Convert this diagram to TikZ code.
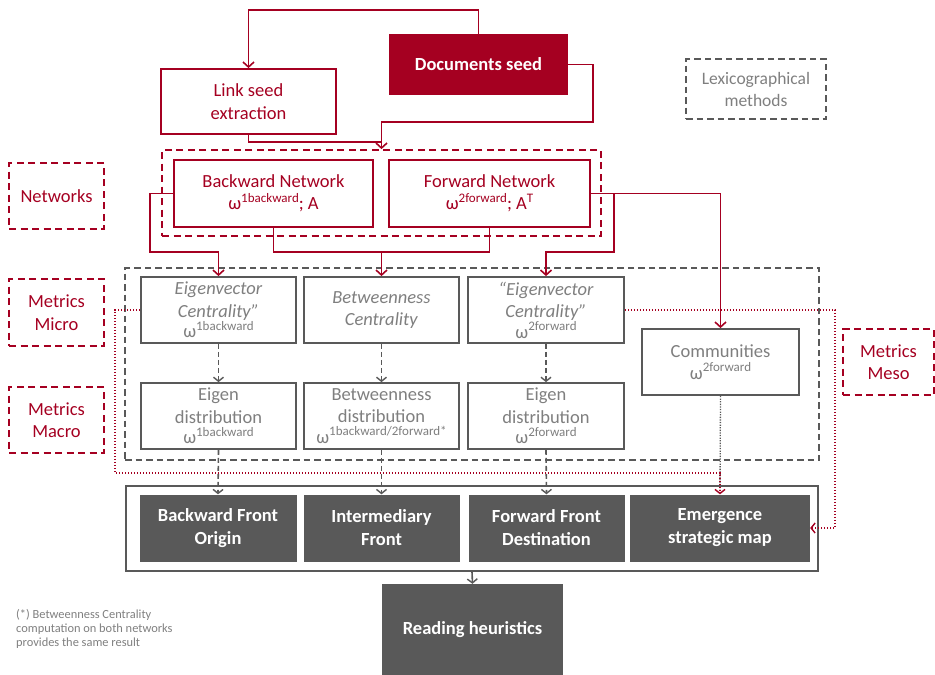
\documentclass[tikz,border=0pt]{standalone}
\usepackage{fontspec}
\setmainfont{Carlito}
\usetikzlibrary{arrows.meta}
\definecolor{dred}{HTML}{A50021}
\definecolor{dgray}{HTML}{595959}
\definecolor{tgray}{HTML}{7F7F7F}
\newcommand\omup[1]{ω\raisebox{0.42em}{\fontsize{13}{13}\selectfont #1}}
\tikzset{
 base/.style={rectangle, inner sep=0pt, align=center, font=\fontsize{18.5}{22.5}\selectfont},
 redbox/.style={base, draw=dred, line width=1.8pt, text=dred, fill=white},
 seedbox/.style={base, fill=dred, text=white, font=\fontsize{18.5}{22}\selectfont\bfseries},
 graybox/.style={base, draw=dgray, line width=1.8pt, text=tgray, fill=white},
 darkbox/.style={base, fill=dgray, text=white, font=\fontsize{18.5}{23}\selectfont\bfseries},
 reddash/.style={base, draw=dred, line width=1.8pt, dash pattern=on 7pt off 4.5pt, text=dred},
 graydash/.style={base, draw=dgray, line width=1.8pt, dash pattern=on 6.5pt off 4pt, text=tgray},
 container/.style={base, draw=dgray, line width=1.6pt, fill=white},
 redline/.style={draw=dred, line width=1.8pt},
 redarrow/.style={redline, -{Straight Barb[length=5pt,width=11pt,line width=1.6pt]}},
 grayarrow/.style={draw=dgray, line width=1.6pt, dash pattern=on 5pt off 3pt, -{Straight Barb[length=4pt,width=10pt,line width=1.4pt]}},
 grayarrowsolid/.style={draw=dgray, line width=1.6pt, -{Straight Barb[length=4pt,width=10pt,line width=1.4pt]}},
 reddot/.style={draw=dred, line width=1.5pt, dash pattern=on 1.5pt off 1.5pt},
 reddotarrow/.style={reddot, -{Straight Barb[length=4pt,width=10pt,line width=1.4pt]}},
 graydot/.style={draw=dgray, line width=1.3pt, dash pattern=on 1.3pt off 1.3pt},
}
\begin{document}
\begin{tikzpicture}[x=1pt,y=-1pt]
\useasboundingbox (0,0) rectangle (935,675);

% containers
\node[reddash, minimum width=439, minimum height=86] (netbox) at (381.5,193) {};
\node[graydash, minimum width=694, minimum height=192] (metbox) at (472,364) {};
\node[container, minimum width=692, minimum height=85] (frontbox) at (472,528.5) {};

% top
\node[seedbox, minimum width=179, minimum height=61] (docs) at (478.5,64.5) {Documents seed};
\node[redbox, minimum width=175, minimum height=65] (link) at (248.5,101.5) {Link seed\\extraction};
\node[graydash, minimum width=140, minimum height=60, font=\fontsize{17.5}{22}\selectfont] (lex) at (756,89) {Lexicographical\\methods};

% networks
\node[redbox, minimum width=199, minimum height=67] (back) at (273.5,193.5) {Backward Network\\\omup{1backward}; A};
\node[redbox, minimum width=201, minimum height=67] (fwd) at (489.5,193.5) {Forward Network\\\omup{2forward}; A\raisebox{0.42em}{\fontsize{13}{13}\selectfont T}};

% metrics
\node[graybox, minimum width=155, minimum height=66] (e1) at (218.5,310) {\textit{Eigenvector}\\\textit{Centrality”}\\[-2pt]\omup{1backward}};
\node[graybox, minimum width=155, minimum height=66] (bc) at (381.5,310) {\textit{Betweenness}\\\textit{Centrality}};
\node[graybox, minimum width=156, minimum height=66] (e2) at (546,310) {\textit{“Eigenvector}\\\textit{Centrality”}\\[-2pt]\omup{2forward}};
\node[graybox, minimum width=155, minimum height=66] (ed1) at (218.5,416) {Eigen\\distribution\\[-2pt]\omup{1backward}};
\node[graybox, minimum width=155, minimum height=66] (bd) at (381.5,416) {Betweenness\\distribution\\[-2pt]\omup{1backward/2forward*}};
\node[graybox, minimum width=156, minimum height=66] (ed2) at (546,416) {Eigen\\distribution\\[-2pt]\omup{2forward}};
\node[graybox, minimum width=157, minimum height=66] (comm) at (720.5,362) {Communities\\\omup{2forward}};

% fronts
\node[darkbox, minimum width=157, minimum height=67] (bfo) at (218,528) {Backward Front\\Origin};
\node[darkbox, minimum width=156, minimum height=67] (inf) at (381.5,528) {Intermediary\\Front};
\node[darkbox, minimum width=156, minimum height=67] (ffd) at (546.5,528) {Forward Front\\Destination};
\node[darkbox, minimum width=180, minimum height=67] (esm) at (720,528) {Emergence\\strategic map};
\node[darkbox, minimum width=181, minimum height=91] (read) at (472.5,629.5) {Reading heuristics};

% side labels
\node[reddash, minimum width=95, minimum height=66] (lnet) at (56.5,196) {Networks};
\node[reddash, minimum width=95, minimum height=67] (lmicro) at (56.5,312.5) {Metrics\\Micro};
\node[reddash, minimum width=95, minimum height=66] (lmacro) at (56.5,420) {Metrics\\Macro};
\node[reddash, minimum width=91, minimum height=66] (lmeso) at (888.5,362) {Metrics\\Meso};

% footnote
\node[anchor=north west, inner sep=0pt, align=left, text=tgray, font=\fontsize{12.4}{14}\selectfont] (foot) at (16,609) {(*) Betweenness Centrality\\computation on both networks\\provides the same result};

% coordinates
\coordinate (dsr) at (593,122);
\coordinate (j) at (381.5,142);
\coordinate (bl) at (150,252);
\coordinate (mid) at (381.5,252);
\coordinate (fr) at (614,193.5);
\coordinate (fr2) at (614,252);
\coordinate (rl) at (115,473);
\coordinate (rr) at (835,528);

% red connectors
\draw[redarrow] (docs.north) -- ++(0,-24) -| (link.north);
\draw[redarrow] (docs.east) -| (dsr) -| (netbox.north);
\draw[redline] (link.south) |- (j);
\draw[redarrow] (back.west) -| (bl) -| (e1.north);
\draw[redline] (back.south) |- (mid) -| (fwd.south);
\draw[redarrow] (mid) -- (bc.north);
\draw[redarrow] (fwd.east) -| (comm.north);
\draw[redarrow] (fr) -- (fr2) -| (e2.north);

% gray dashed arrows
\draw[grayarrow] (e1.south) -- (ed1.north);
\draw[grayarrow] (bc.south) -- (bd.north);
\draw[grayarrow] (e2.south) -- (ed2.north);
\draw[grayarrow] (ed1.south) -- (bfo.north);
\draw[grayarrow] (bd.south) -- (inf.north);
\draw[grayarrow] (ed2.south) -- (ffd.north);
\draw[graydot] (comm.south) -- (esm.north);
\draw[grayarrowsolid] (frontbox.south) -- (read.north);

% red dotted
\draw[reddotarrow] (e1.west) -| (rl) -| (esm.north);
\draw[reddotarrow] (e2.east) -| (rr) -- (esm.east);
\end{tikzpicture}
\end{document}
